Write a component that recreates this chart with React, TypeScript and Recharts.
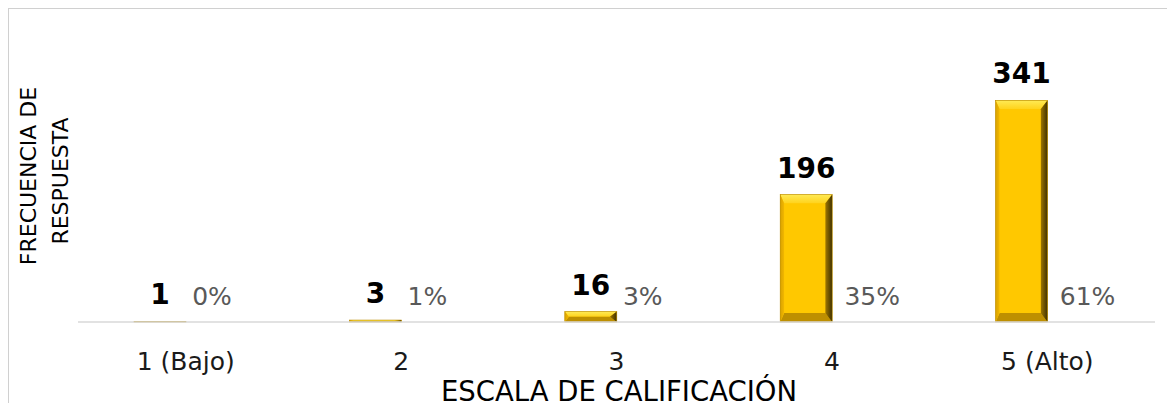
import React from "react";
import { BarChart, Bar, XAxis, YAxis, LabelList } from "recharts";

const categories = ["1 (Bajo)", "2", "3", "4", "5 (Alto)"];
const counts = [1, 3, 16, 196, 341];
const shares = [0.0018, 0.0054, 0.0287, 0.3519, 0.6122];
const yTitleLines = ["FRECUENCIA DE", "RESPUESTA"];
const xTitle = "ESCALA DE CALIFICACIÓN";

const data = categories.map((c, i) => ({ cat: c, count: counts[i], share: shares[i] }));

const FONT = "'DejaVu Sans', Verdana, sans-serif";

function BevelBar(props: any) {
  const { x, y, width: w, height: h } = props;
  if (!h || h <= 0 || !w) return null;
  const bt = Math.min(9, h / 2);
  const bb = Math.min(9, h / 2);
  const bl = Math.min(4, w / 4);
  const br = Math.min(7, w / 4);
  const p = (pts: number[][]) => pts.map((q) => q.join(",")).join(" ");
  return (
    <g>
      <defs>
        <linearGradient id="bvTop" x1="0" y1="0" x2="0" y2="1">
          <stop offset="0%" stopColor="#FFEA55" />
          <stop offset="100%" stopColor="#FFD21A" />
        </linearGradient>
        <linearGradient id="bvRight" x1="0" y1="0" x2="1" y2="0">
          <stop offset="0%" stopColor="#A07800" />
          <stop offset="100%" stopColor="#3F3000" />
        </linearGradient>
        <linearGradient id="bvLeft" x1="0" y1="0" x2="1" y2="0">
          <stop offset="0%" stopColor="#D9A200" />
          <stop offset="100%" stopColor="#F2B800" />
        </linearGradient>
      </defs>
      <rect x={x} y={y} width={w} height={h} fill="#FFC400" />
      <polygon points={p([[x, y], [x + w, y], [x + w - br, y + bt], [x + bl, y + bt]])} fill="url(#bvTop)" />
      <polygon points={p([[x, y + h], [x + w, y + h], [x + w - br, y + h - bb], [x + bl, y + h - bb]])} fill="#BE8F00" />
      <polygon points={p([[x, y], [x + bl, y + bt], [x + bl, y + h - bb], [x, y + h]])} fill="url(#bvLeft)" />
      <polygon points={p([[x + w, y], [x + w - br, y + bt], [x + w - br, y + h - bb], [x + w, y + h]])} fill="url(#bvRight)" />
      <rect x={x + bl} y={y + bt} width={Math.max(0, w - bl - br)} height={Math.max(0, h - bt - bb)} fill="#FFC800" />
      <rect x={x} y={y} width={w} height={h} fill="none" stroke="#B88A00" strokeWidth={0.6} />
    </g>
  );
}

function CountLabel(props: any) {
  const { x, y, width, value } = props;
  return (
    <text x={x + width / 2} y={y - 17} textAnchor="middle" fontFamily={FONT} fontWeight="bold" fontSize={28} fill="#000">
      {value}
    </text>
  );
}

function ShareLabel(props: any) {
  const { x, y, width, height, value } = props;
  const base = y + (height || 0);
  const dx = value > 0.1 ? 14 : 0;
  return (
    <text x={x + width / 2 + dx} y={base - 17} textAnchor="middle" fontFamily={FONT} fontSize={25} fill="#595959">
      {Math.round(value * 100) + "%"}
    </text>
  );
}

function Tick(props: any) {
  const { x, y, payload } = props;
  return (
    <text x={x} y={y + 48} textAnchor="middle" fontFamily={FONT} fontSize={25} fill="#1A1A1A">
      {payload.value}
    </text>
  );
}

export default function App() {
  return (
    <div style={{ position: "relative", width: 1175, height: 411, margin: -8, overflow: "hidden", background: "#fff" }}>
      <div style={{ position: "absolute", left: 8, top: 8, width: 1167, height: 403 }}>
        <BarChart width={1167} height={403} data={data} margin={{ top: 54, right: 20, bottom: 0, left: 70 }} barSize={52} barGap={0}>
          <YAxis hide domain={[0, 400]} />
          <XAxis
            dataKey="cat"
            height={89}
            tickLine={false}
            tickSize={0}
            tickMargin={0}
            axisLine={{ stroke: "#D9D9D9", strokeWidth: 1.5 }}
            tick={<Tick />}
            interval={0}
          />
          <Bar dataKey="count" isAnimationActive={false} shape={<BevelBar />}>
            <LabelList dataKey="count" content={<CountLabel />} />
          </Bar>
          <Bar dataKey="share" isAnimationActive={false} fill="none">
            <LabelList dataKey="share" content={<ShareLabel />} />
          </Bar>
        </BarChart>
      </div>
      <svg width={1175} height={411} style={{ position: "absolute", left: 0, top: 0, pointerEvents: "none" }}>
        <line x1={7} y1={8} x2={1175} y2={8} stroke="#D0D0D0" strokeWidth={2} />
        <line x1={8} y1={7} x2={8} y2={411} stroke="#D0D0D0" strokeWidth={2} />
        <text transform="translate(36,176) rotate(-90)" textAnchor="middle" fontFamily={FONT} fontSize={22} fill="#000">
          {yTitleLines[0]}
        </text>
        <text transform="translate(68,181) rotate(-90)" textAnchor="middle" fontFamily={FONT} fontSize={22} fill="#000">
          {yTitleLines[1]}
        </text>
        <text x={619} y={401} textAnchor="middle" fontFamily={FONT} fontSize={27.5} fill="#000">
          {xTitle}
        </text>
      </svg>
    </div>
  );
}
